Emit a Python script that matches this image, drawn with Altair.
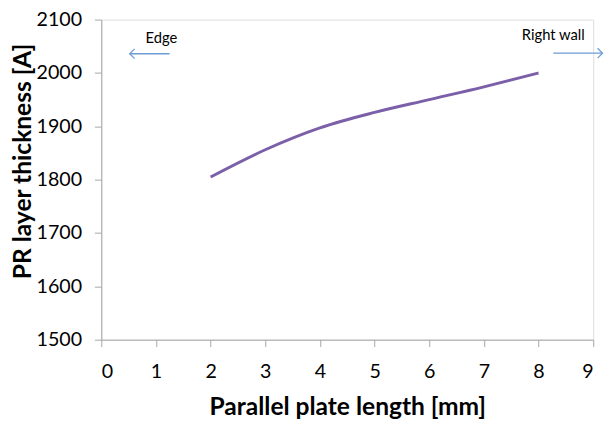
import altair as alt
import pandas as pd

# Line data
length_mm = [2, 3, 4, 5, 6, 7, 8]
thickness_A = [1805, 1856, 1897, 1926, 1950, 1974, 2000]

# Annotations
note_text = ["Edge", "Right wall"]
note_x = [1.1, 8.27]
note_y = [2066, 2071]

arrow_start = [1.25, 8.27]
arrow_end = [0.52, 9.17]
arrow_y = [2036, 2037]
arrow_dir = ["left", "right"]

FONT = "Lato"
AXIS_COLOR = "#A6A6A6"
LINE_COLOR = "#7B5FA8"
ARROW_COLOR = "#6E9CD4"

df = pd.DataFrame({"x": length_mm, "y": thickness_A})
notes = pd.DataFrame({"x": note_x, "y": note_y, "t": note_text})
arrows = pd.DataFrame({"x": arrow_start, "x2": arrow_end, "y": arrow_y, "d": arrow_dir})

xscale = alt.Scale(domain=[0, 9], nice=False)
yscale = alt.Scale(domain=[1500, 2100], nice=False, zero=False)

line = alt.Chart(df).mark_line(
    color=LINE_COLOR, strokeWidth=3, interpolate="monotone"
).encode(
    x=alt.X("x:Q", scale=xscale, title="Parallel plate length [mm]",
            axis=alt.Axis(values=list(range(0, 10)), format="d", grid=False,
                          domainColor=AXIS_COLOR, tickColor=AXIS_COLOR,
                          tickSize=7, labelFont=FONT, labelFontSize=20,
                          labelColor="#000000", labelPadding=15,
                          titleFont=FONT, titleFontSize=25, titleFontWeight="bold",
                          titleColor="#000000", titleBaseline="alphabetic",
                          titleY=76)),
    y=alt.Y("y:Q", scale=yscale, title="PR layer thickness [A]",
            axis=alt.Axis(values=list(range(1500, 2101, 100)), format="d", grid=False,
                          domainColor=AXIS_COLOR, tickColor=AXIS_COLOR,
                          tickSize=7, labelFont=FONT, labelFontSize=20,
                          labelColor="#000000", labelPadding=13,
                          titleFont=FONT, titleFontSize=25, titleFontWeight="bold",
                          titleColor="#000000", titleBaseline="alphabetic",
                          titleAlign="center", titleAngle=270,
                          titleX=-72, titleY=144)),
)

text = alt.Chart(notes).mark_text(
    font=FONT, fontSize=15, color="#000000", align="center", baseline="middle"
).encode(x=alt.X("x:Q", scale=xscale), y=alt.Y("y:Q", scale=yscale), text="t:N")

shafts = alt.Chart(arrows).mark_rule(
    color=ARROW_COLOR, strokeWidth=1.3
).encode(x=alt.X("x:Q", scale=xscale), x2="x2:Q", y=alt.Y("y:Q", scale=yscale))

heads = alt.Chart(arrows).mark_point(
    filled=False, color=ARROW_COLOR, strokeWidth=1.3, size=100, opacity=1
).encode(
    x=alt.X("x2:Q", scale=xscale),
    y=alt.Y("y:Q", scale=yscale),
    shape=alt.Shape("d:N", scale=alt.Scale(
        domain=["left", "right"],
        range=["M1,-1 L0,0 L1,1", "M-1,-1 L0,0 L-1,1"]), legend=None),
)

chart = alt.layer(line, shafts, heads, text).properties(
    width=501, height=326,
    autosize=alt.AutoSizeParams(type="none"),
    padding={"left": 95, "top": 8, "right": 12, "bottom": 80},
).configure_view(stroke=None).configure(background="white")

chart.save("out.html", embed_options={"renderer": "svg", "actions": False})
